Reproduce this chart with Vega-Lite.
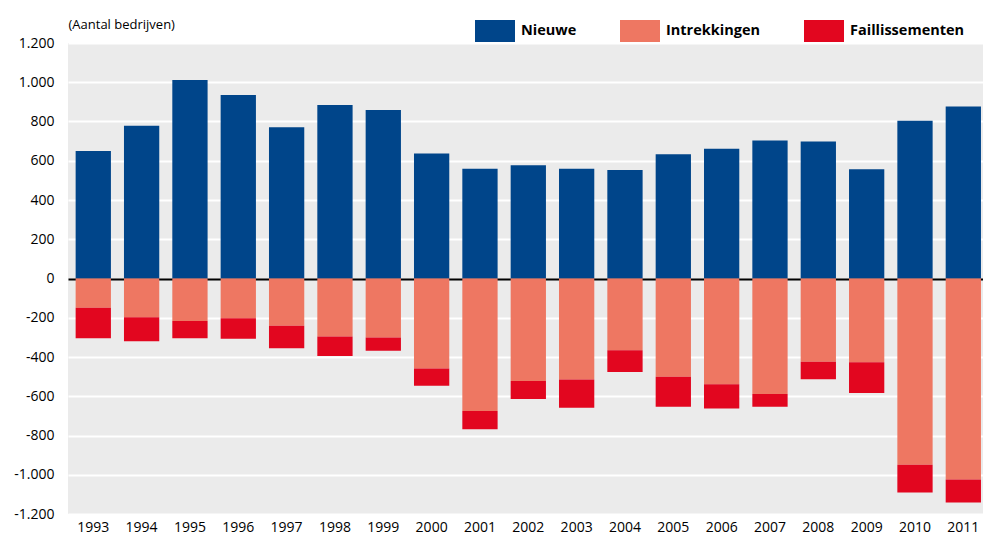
{
  "$schema": "https://vega.github.io/schema/vega-lite/v6.json",
  "autosize": {"type": "none"},
  "padding": {"left": 68, "top": 43, "right": 0, "bottom": 21},
  "width": 915,
  "height": 471,
  "background": "white",
  "config": {
    "view": {"stroke": null, "fill": "#EBEBEB"},
    "font": "Open Sans",
    "axis": {"labelFont": "Open Sans", "labelColor": "#000000", "labelFontSize": 14}
  },
  "data": {
    "values": [
      {"jaar": "1993", "categorie": "Nieuwe", "aantal": 650},
      {"jaar": "1993", "categorie": "Intrekkingen", "aantal": -149},
      {"jaar": "1993", "categorie": "Faillissementen", "aantal": -156},
      {"jaar": "1994", "categorie": "Nieuwe", "aantal": 778},
      {"jaar": "1994", "categorie": "Intrekkingen", "aantal": -197},
      {"jaar": "1994", "categorie": "Faillissementen", "aantal": -123},
      {"jaar": "1995", "categorie": "Nieuwe", "aantal": 1011},
      {"jaar": "1995", "categorie": "Intrekkingen", "aantal": -217},
      {"jaar": "1995", "categorie": "Faillissementen", "aantal": -88},
      {"jaar": "1996", "categorie": "Nieuwe", "aantal": 935},
      {"jaar": "1996", "categorie": "Intrekkingen", "aantal": -203},
      {"jaar": "1996", "categorie": "Faillissementen", "aantal": -104},
      {"jaar": "1997", "categorie": "Nieuwe", "aantal": 771},
      {"jaar": "1997", "categorie": "Intrekkingen", "aantal": -241},
      {"jaar": "1997", "categorie": "Faillissementen", "aantal": -115},
      {"jaar": "1998", "categorie": "Nieuwe", "aantal": 884},
      {"jaar": "1998", "categorie": "Intrekkingen", "aantal": -295},
      {"jaar": "1998", "categorie": "Faillissementen", "aantal": -100},
      {"jaar": "1999", "categorie": "Nieuwe", "aantal": 858},
      {"jaar": "1999", "categorie": "Intrekkingen", "aantal": -300},
      {"jaar": "1999", "categorie": "Faillissementen", "aantal": -68},
      {"jaar": "2000", "categorie": "Nieuwe", "aantal": 637},
      {"jaar": "2000", "categorie": "Intrekkingen", "aantal": -459},
      {"jaar": "2000", "categorie": "Faillissementen", "aantal": -88},
      {"jaar": "2001", "categorie": "Nieuwe", "aantal": 559},
      {"jaar": "2001", "categorie": "Intrekkingen", "aantal": -675},
      {"jaar": "2001", "categorie": "Faillissementen", "aantal": -93},
      {"jaar": "2002", "categorie": "Nieuwe", "aantal": 577},
      {"jaar": "2002", "categorie": "Intrekkingen", "aantal": -522},
      {"jaar": "2002", "categorie": "Faillissementen", "aantal": -92},
      {"jaar": "2003", "categorie": "Nieuwe", "aantal": 559},
      {"jaar": "2003", "categorie": "Intrekkingen", "aantal": -515},
      {"jaar": "2003", "categorie": "Faillissementen", "aantal": -143},
      {"jaar": "2004", "categorie": "Nieuwe", "aantal": 553},
      {"jaar": "2004", "categorie": "Intrekkingen", "aantal": -366},
      {"jaar": "2004", "categorie": "Faillissementen", "aantal": -110},
      {"jaar": "2005", "categorie": "Nieuwe", "aantal": 633},
      {"jaar": "2005", "categorie": "Intrekkingen", "aantal": -500},
      {"jaar": "2005", "categorie": "Faillissementen", "aantal": -153},
      {"jaar": "2006", "categorie": "Nieuwe", "aantal": 661},
      {"jaar": "2006", "categorie": "Intrekkingen", "aantal": -539},
      {"jaar": "2006", "categorie": "Faillissementen", "aantal": -124},
      {"jaar": "2007", "categorie": "Nieuwe", "aantal": 703},
      {"jaar": "2007", "categorie": "Intrekkingen", "aantal": -588},
      {"jaar": "2007", "categorie": "Faillissementen", "aantal": -66},
      {"jaar": "2008", "categorie": "Nieuwe", "aantal": 698},
      {"jaar": "2008", "categorie": "Intrekkingen", "aantal": -424},
      {"jaar": "2008", "categorie": "Faillissementen", "aantal": -90},
      {"jaar": "2009", "categorie": "Nieuwe", "aantal": 557},
      {"jaar": "2009", "categorie": "Intrekkingen", "aantal": -427},
      {"jaar": "2009", "categorie": "Faillissementen", "aantal": -156},
      {"jaar": "2010", "categorie": "Nieuwe", "aantal": 804},
      {"jaar": "2010", "categorie": "Intrekkingen", "aantal": -949},
      {"jaar": "2010", "categorie": "Faillissementen", "aantal": -141},
      {"jaar": "2011", "categorie": "Nieuwe", "aantal": 877},
      {"jaar": "2011", "categorie": "Intrekkingen", "aantal": -1024},
      {"jaar": "2011", "categorie": "Faillissementen", "aantal": -118}
    ]
  },
  "mark": {"type": "bar"},
  "encoding": {
    "x": {
      "field": "jaar",
      "type": "ordinal",
      "scale": {"paddingInner": 0.27, "paddingOuter": 0.1, "align": 0.79},
      "axis": {"title": null, "ticks": false, "domain": false, "labelAngle": 0, "labelPadding": 6, "grid": false}
    },
    "y": {
      "field": "aantal",
      "type": "quantitative",
      "stack": "zero",
      "scale": {"domain": [-1200, 1200], "nice": false},
      "axis": {
        "title": "(Aantal bedrijven)",
        "titleAngle": 0,
        "titleAlign": "left",
        "titleBaseline": "middle",
        "titleX": 0,
        "titleY": -19,
        "titleFont": "Open Sans",
        "titleFontSize": 13,
        "titleFontWeight": "normal",
        "titleColor": "#000000",
        "values": [-1200, -1000, -800, -600, -400, -200, 0, 200, 400, 600, 800, 1000, 1200],
        "labelExpr": "(datum.value < 0 ? '-' : '') + replace(format(abs(datum.value), ','), ',', '.')",
        "ticks": false,
        "domain": false,
        "labelPadding": 14,
        "grid": true,
        "gridColor": {"condition": {"test": "datum.value === 0", "value": "#000000"}, "value": "#FFFFFF"},
        "gridWidth": 2,
        "gridOpacity": 1
      }
    },
    "color": {
      "field": "categorie",
      "type": "nominal",
      "scale": {
        "domain": ["Nieuwe", "Intrekkingen", "Faillissementen"],
        "range": ["#00458A", "#EE7762", "#E2061F"]
      },
      "legend": {
        "title": null,
        "orient": "none",
        "direction": "horizontal",
        "legendX": 407,
        "legendY": -32,
        "symbolType": "M-1,-0.55H1V0.55H-1Z",
        "symbolSize": 1600,
        "symbolStrokeWidth": 0,
        "symbolOpacity": 1,
        "labelFont": "Open Sans",
        "labelFontSize": 14.5,
        "labelFontWeight": "bold",
        "labelColor": "#000000",
        "labelOffset": 6,
        "columnPadding": 43,
        "padding": 0
      }
    },
    "order": {"field": "categorie", "sort": "descending"}
  }
}
